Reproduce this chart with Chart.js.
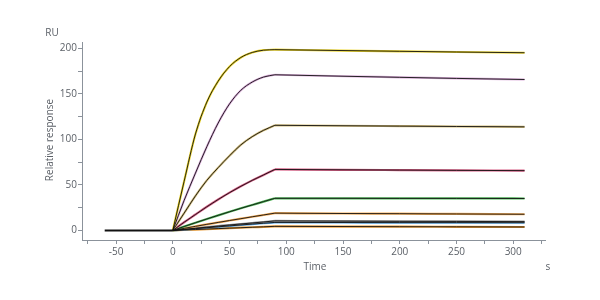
<!DOCTYPE html>
<html>
<head>
<meta charset="utf-8">
<script src="https://cdn.jsdelivr.net/npm/chart.js@4"></script>
<style>
  body { margin: 0; background: #fff; }
  canvas { display: block; }
</style>
</head>
<body>
<canvas id="chart" width="600" height="300"></canvas>
<script>
// time points (s)
const baseTime = [-60, 0];
const assocTime = [0, 10, 20, 30, 40, 50, 60, 70, 80, 90];
const dissocTime = [90, 150, 200, 250, 310];

// response (RU), association phase, top curve first
const assocYellow = [0, 54, 106, 141, 164, 180, 190, 195.5, 198, 198.6];
const assocPink = [0, 33, 63, 92, 118, 139, 154, 163, 168.5, 171];
const assocKhaki = [0, 19, 38, 55, 69, 82, 94, 103, 110, 115.5];
const assocCrimson = [0, 9, 17.5, 26, 34, 41.5, 48.5, 55, 61, 67];
const assocGreen = [0, 4.3, 8.5, 12.6, 16.6, 20.5, 24.3, 28, 31.7, 35.3];
const assocOrange = [0, 2.3, 4.5, 6.7, 8.8, 10.9, 12.9, 15, 17, 19];
const assocGray = [0, 1.2, 2.4, 3.6, 4.8, 6, 7.1, 8.2, 9.3, 10.5];
const assocBlue = [0, 1, 2, 3, 4, 5, 6, 7, 7.9, 8.8];
const assocBrown = [0, 0.5, 1, 1.5, 2, 2.5, 3, 3.5, 4, 4.5];

// dissociation phase
const dissocYellow = [198.6, 197.6, 196.8, 196, 195.2];
const dissocPink = [171, 169.4, 168.2, 167, 165.8];
const dissocKhaki = [115.5, 115, 114.6, 114.2, 113.8];
const dissocCrimson = [67, 66.6, 66.3, 66, 65.7];
const dissocGreen = [35.3, 35.3, 35.2, 35.2, 35.1];
const dissocOrange = [19, 18.6, 18.4, 18.1, 17.8];
const dissocGray = [10.5, 10.2, 10, 9.9, 9.7];
const dissocBlue = [8.8, 8.7, 8.6, 8.6, 8.5];
const dissocBrown = [4.5, 4.3, 4.1, 4.0, 3.8];

const baseline = [0, 0];

const xTicks = [-75, -50, -25, 0, 25, 50, 75, 100, 125, 150, 175, 200, 225, 250, 275, 300, 325];
const xLabels = [-50, 0, 50, 100, 150, 200, 250, 300];
const yTicks = [0, 25, 50, 75, 100, 125, 150, 175, 200];
const yLabels = [0, 50, 100, 150, 200];

const series = [
  { color: '#ecd52a', assoc: assocYellow, dissoc: dissocYellow },
  { color: '#dcaedb', assoc: assocPink, dissoc: dissocPink },
  { color: '#d2bc78', assoc: assocKhaki, dissoc: dissocKhaki },
  { color: '#d65a82', assoc: assocCrimson, dissoc: dissocCrimson },
  { color: '#4cb455', assoc: assocGreen, dissoc: dissocGreen },
  { color: '#f5ac55', assoc: assocOrange, dissoc: dissocOrange },
  { color: '#9a9a9a', assoc: assocGray, dissoc: dissocGray },
  { color: '#5aa6e0', assoc: assocBlue, dissoc: dissocBlue },
  { color: '#e89a35', assoc: assocBrown, dissoc: dissocBrown }
];

const toPts = (xs, ys) => xs.map((x, i) => ({ x: x, y: ys[i] }));

const datasets = [];
series.forEach(s => {
  [[assocTime, s.assoc], [dissocTime, s.dissoc]].forEach(([xs, ys]) => {
    // measured curve (behind)
    datasets.push({ data: toPts(xs, ys), borderColor: s.color, borderWidth: 2.2, order: 2 });
    // fitted curve (on top)
    datasets.push({ data: toPts(xs, ys), borderColor: '#111', borderWidth: 0.9, order: 1 });
  });
});
datasets.push({ data: toPts(baseTime, baseline), borderColor: '#111', borderWidth: 2, order: 0 });

const axisColor = '#8b929b';
const textColor = '#5a5f66';
const font = { family: 'Open Sans', size: 10 };

const titles = {
  id: 'titles',
  afterDraw(chart) {
    const c = chart.ctx;
    c.save();
    c.fillStyle = textColor;
    c.font = '10px "Open Sans"';
    c.textAlign = 'center';
    c.textBaseline = 'middle';
    c.fillText('RU', 52, 33);
    c.fillText('Time', 315, 267);
    c.fillText('s', 548, 267);
    c.translate(50, 140);
    c.rotate(-Math.PI / 2);
    c.fillText('Relative response', 0, 0);
    c.restore();
  }
};

new Chart(document.getElementById('chart'), {
  type: 'line',
  data: { datasets: datasets },
  plugins: [titles],
  options: {
    responsive: false,
    animation: false,
    layout: { padding: { left: 0, right: 55, top: 42, bottom: 0 } },
    elements: {
      point: { radius: 0 },
      line: { cubicInterpolationMode: 'monotone', fill: false }
    },
    plugins: { legend: { display: false }, tooltip: { enabled: false } },
    scales: {
      x: {
        type: 'linear',
        min: -80,
        max: 328,
        afterBuildTicks: sc => { sc.ticks = xTicks.map(v => ({ value: v })); },
        afterFit: sc => { sc.height = 60; },
        ticks: {
          autoSkip: false,
          maxRotation: 0,
          padding: 2,
          color: textColor,
          font: font,
          callback: v => xLabels.includes(v) ? String(v) : ''
        },
        grid: { drawOnChartArea: false, tickLength: 4, color: axisColor },
        border: { color: axisColor, width: 1 }
      },
      y: {
        min: -10.5,
        max: 207,
        afterBuildTicks: sc => { sc.ticks = yTicks.map(v => ({ value: v })); },
        afterFit: sc => { sc.width = 82; },
        ticks: {
          autoSkip: false,
          padding: 1,
          color: textColor,
          font: font,
          callback: v => yLabels.includes(v) ? String(v) : ''
        },
        grid: { drawOnChartArea: false, tickLength: 4, color: axisColor },
        border: { color: axisColor, width: 1 }
      }
    }
  }
});
</script>
</body>
</html>
